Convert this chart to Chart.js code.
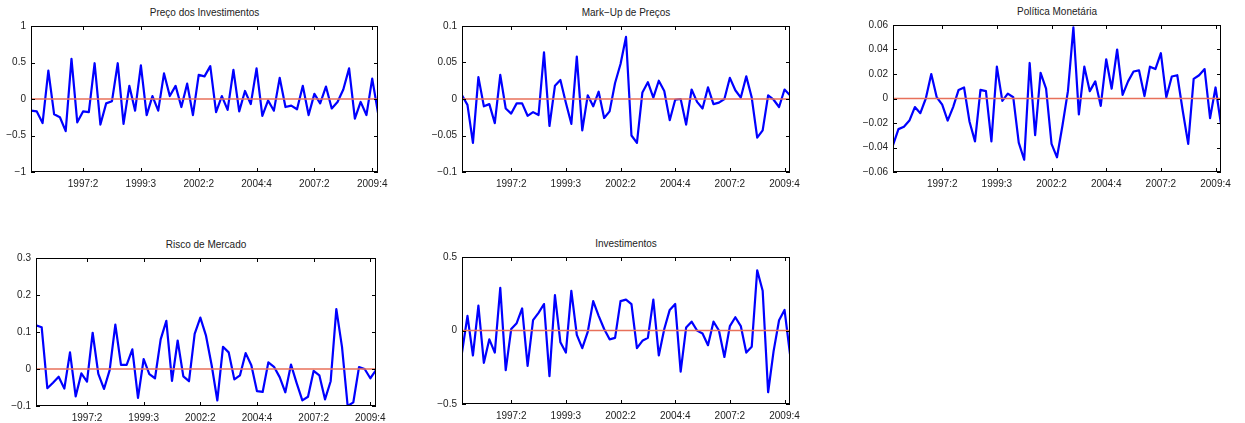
<!DOCTYPE html>
<html>
<head>
<meta charset="utf-8">
<script src="https://cdn.jsdelivr.net/npm/chart.js@4/dist/chart.umd.min.js"></script>
<style>
    body { margin: 0; background: #fff; }
    #quadro { position: relative; width: 1245px; height: 423px; overflow: hidden; }
    canvas { position: absolute; }
    .titulo {
        position: absolute;
        text-align: center;
        font: 10px "Liberation Sans", Arial, sans-serif;
        line-height: 12px;
        color: #222;
        white-space: nowrap;
    }
    .caixa { position: absolute; box-sizing: border-box; border: 1px solid #000; pointer-events: none; }
    .tique { position: absolute; background: #000; pointer-events: none; }
</style>
</head>
<body>
<div id="quadro"></div>
<script>
// Trimestres: o eixo x vai do ponto 1 ao 61, com rótulos só em alguns pontos
const xMin = 1;
const xMax = 61;
const ticksX = [10, 20, 30, 40, 50, 60];
const rotulosX = ['1997:2', '1999:3', '2002:2', '2004:4', '2007:2', '2009:4'];

// Séries (61 trimestres cada)
const precoInvestimentos = [
    -0.16, -0.17, -0.33, 0.39, -0.21, -0.25, -0.44, 0.55, -0.32, -0.17,
    -0.18, 0.49, -0.35, -0.06, -0.03, 0.49, -0.34, 0.18, -0.16, 0.46,
    -0.22, 0.04, -0.16, 0.35, 0.04, 0.18, -0.11, 0.21, -0.22, 0.33,
    0.31, 0.45, -0.18, 0.04, -0.15, 0.40, -0.17, 0.11, -0.07, 0.42,
    -0.23, -0.02, -0.16, 0.29, -0.11, -0.09, -0.14, 0.18, -0.22, 0.07,
    -0.06, 0.17, -0.13, -0.04, 0.13, 0.42, -0.27, -0.04, -0.22, 0.28,
    -0.19
];
const markUpPrecos = [
    0.005, -0.008, -0.060, 0.030, -0.010, -0.007, -0.033, 0.033, -0.013, -0.020,
    -0.006, -0.006, -0.023, -0.018, -0.022, 0.064, -0.037, 0.018, 0.026, -0.005,
    -0.034, 0.058, -0.043, 0.005, -0.010, 0.010, -0.026, -0.017, 0.022, 0.048,
    0.085, -0.050, -0.060, 0.009, 0.023, 0.002, 0.025, 0.011, -0.029, -0.001,
    0.000, -0.035, 0.013, -0.004, -0.013, 0.016, -0.007, -0.005, 0.000, 0.029,
    0.012, 0.002, 0.031, 0.002, -0.053, -0.043, 0.005, -0.001, -0.011, 0.013,
    0.005
];
const politicaMonetaria = [
    -0.038, -0.025, -0.023, -0.018, -0.007, -0.012, 0.000, 0.020, 0.001, -0.005,
    -0.018, -0.007, 0.007, 0.009, -0.019, -0.035, 0.007, 0.006, -0.035, 0.026,
    -0.002, 0.004, 0.001, -0.036, -0.050, 0.029, -0.030, 0.021, 0.008, -0.037,
    -0.048, -0.022, 0.006, 0.058, -0.013, 0.026, 0.006, 0.014, -0.006, 0.032,
    0.008, 0.040, 0.003, 0.014, 0.022, 0.023, 0.002, 0.026, 0.024, 0.037,
    0.001, 0.018, 0.019, -0.010, -0.037, 0.016, 0.019, 0.024, -0.016, 0.009,
    -0.021
];
const riscoMercado = [
    0.118, 0.113, -0.052, -0.037, -0.021, -0.053, 0.045, -0.074, -0.012, -0.034,
    0.098, -0.013, -0.054, -0.003, 0.120, 0.011, 0.011, 0.053, -0.078, 0.027,
    -0.014, -0.025, 0.080, 0.130, -0.032, 0.077, -0.020, -0.033, 0.095, 0.139,
    0.090, 0.010, -0.085, 0.060, 0.045, -0.028, -0.017, 0.043, 0.010, -0.060,
    -0.062, 0.018, 0.006, -0.022, -0.063, 0.012, -0.038, -0.085, -0.075, -0.005,
    -0.017, -0.082, -0.033, 0.162, 0.060, -0.100, -0.090, 0.005, 0.000, -0.025,
    -0.003
];
const investimentos = [
    -0.15, 0.10, -0.17, 0.17, -0.22, -0.06, -0.15, 0.29, -0.27, 0.01,
    0.05, 0.15, -0.24, 0.07, 0.12, 0.18, -0.31, 0.24, -0.08, -0.15,
    0.27, -0.03, -0.12, -0.01, 0.20, 0.10, 0.01, -0.06, -0.05, 0.20,
    0.21, 0.18, -0.12, -0.07, -0.05, 0.21, -0.17, 0.01, 0.14, 0.18,
    -0.28, 0.02, 0.06, 0.00, -0.02, -0.10, 0.06, 0.00, -0.18, 0.03,
    0.09, 0.03, -0.15, -0.11, 0.41, 0.27, -0.42, -0.14, 0.07, 0.14,
    -0.16
];

// Marcas do eixo y de cada painel
const ticksPreco = [-1, -0.5, 0, 0.5, 1];
const ticksMarkUp = [-0.1, -0.05, 0, 0.05, 0.1];
const ticksPolitica = [-0.06, -0.04, -0.02, 0, 0.02, 0.04, 0.06];
const ticksRisco = [-0.1, 0, 0.1, 0.2, 0.3];
const ticksInvest = [-0.5, 0, 0.5];

// Medidas do layout (em px): espaço do eixo y, eixo x e sobras
const YW = 40, XH = 20, PT = 6, PR = 30;
const TIQUE = 4; // tracinhos para dentro, como no MATLAB
const fonteEixo = { family: '"Liberation Sans", Arial, sans-serif', size: 10 };

function formatarY(v) {
    return String(Math.round(v * 1000) / 1000).replace('-', '\u2212');
}

// Coloca um tracinho (div de 1px) na página
function tique(quadro, x, y, w, h) {
    const d = document.createElement('div');
    d.className = 'tique';
    d.style.left = x + 'px';
    d.style.top = y + 'px';
    d.style.width = w + 'px';
    d.style.height = h + 'px';
    quadro.appendChild(d);
}

// Cria um painel: canvas posicionado para que a área do gráfico caia em (left, top, w, h)
function criarPainel(titulo, serie, ticksY, left, top, w, h) {
    const quadro = document.getElementById('quadro');

    const tit = document.createElement('div');
    tit.className = 'titulo';
    tit.textContent = titulo;
    tit.style.left = left + 'px';
    tit.style.width = w + 'px';
    tit.style.top = (top - 19) + 'px';
    quadro.appendChild(tit);

    const cv = document.createElement('canvas');
    const cvLeft = left - YW, cvTop = top - PT;
    cv.width = w + YW + PR;
    cv.height = h + PT + XH;
    cv.style.left = cvLeft + 'px';
    cv.style.top = cvTop + 'px';
    quadro.appendChild(cv);

    const pontos = serie.map((v, i) => ({ x: xMin + i, y: v }));

    const grafico = new Chart(cv, {
        type: 'line',
        data: {
            datasets: [
                {
                    // linha do zero, vermelha
                    data: [{ x: xMin, y: 0 }, { x: xMax, y: 0 }],
                    borderColor: '#e8705a',
                    borderWidth: 1.6,
                    pointRadius: 0
                },
                {
                    data: pontos,
                    borderColor: '#0000ff',
                    borderWidth: 2.2,
                    borderJoinStyle: 'round',
                    pointRadius: 0,
                    tension: 0
                }
            ]
        },
        options: {
            responsive: false,
            animation: false,
            devicePixelRatio: 1,
            layout: { padding: { top: PT, right: PR, left: 0, bottom: 0 } },
            plugins: {
                legend: { display: false },
                tooltip: { enabled: false }
            },
            scales: {
                x: {
                    type: 'linear',
                    min: xMin,
                    max: xMax,
                    grid: { display: false, drawTicks: false },
                    border: { display: false },
                    ticks: {
                        autoSkip: false,
                        maxRotation: 0,
                        padding: 6,
                        color: '#222',
                        font: fonteEixo,
                        callback: v => rotulosX[ticksX.indexOf(v)]
                    },
                    afterBuildTicks: s => { s.ticks = ticksX.map(v => ({ value: v })); },
                    afterFit: s => { s.height = XH; s.paddingLeft = 0; s.paddingRight = 0; }
                },
                y: {
                    min: ticksY[0],
                    max: ticksY[ticksY.length - 1],
                    grid: { display: false, drawTicks: false },
                    border: { display: false },
                    ticks: {
                        padding: 5,
                        color: '#222',
                        font: fonteEixo,
                        callback: v => formatarY(v)
                    },
                    afterBuildTicks: s => { s.ticks = ticksY.map(v => ({ value: v })); },
                    afterFit: s => { s.width = YW; s.paddingTop = 0; s.paddingBottom = 0; }
                }
            }
        }
    });

    // Caixa preta em volta da área do gráfico
    const a = grafico.chartArea;
    const bx = cvLeft + Math.round(a.left), by = cvTop + Math.round(a.top);
    const bw = Math.round(a.right - a.left), bh = Math.round(a.bottom - a.top);
    const caixa = document.createElement('div');
    caixa.className = 'caixa';
    caixa.style.left = bx + 'px';
    caixa.style.top = by + 'px';
    caixa.style.width = bw + 'px';
    caixa.style.height = bh + 'px';
    quadro.appendChild(caixa);

    // Tracinhos para dentro nos quatro lados, nas posições das escalas
    ticksX.forEach(v => {
        const x = cvLeft + Math.round(grafico.scales.x.getPixelForValue(v));
        tique(quadro, x, by, 1, TIQUE);
        tique(quadro, x, by + bh - TIQUE, 1, TIQUE);
    });
    ticksY.forEach(v => {
        const y = cvTop + Math.round(grafico.scales.y.getPixelForValue(v));
        tique(quadro, bx, y, TIQUE, 1);
        tique(quadro, bx + bw - TIQUE, y, TIQUE, 1);
    });
}

criarPainel('Preço dos Investimentos', precoInvestimentos, ticksPreco, 31, 26, 347, 146);
criarPainel('Mark\u2212Up de Preços', markUpPrecos, ticksMarkUp, 462, 26, 328, 146);
criarPainel('Política Monetária', politicaMonetaria, ticksPolitica, 893, 25, 328, 147);
criarPainel('Risco de Mercado', riscoMercado, ticksRisco, 36, 258, 340, 148);
criarPainel('Investimentos', investimentos, ticksInvest, 462, 257, 328, 147);
</script>
</body>
</html>
